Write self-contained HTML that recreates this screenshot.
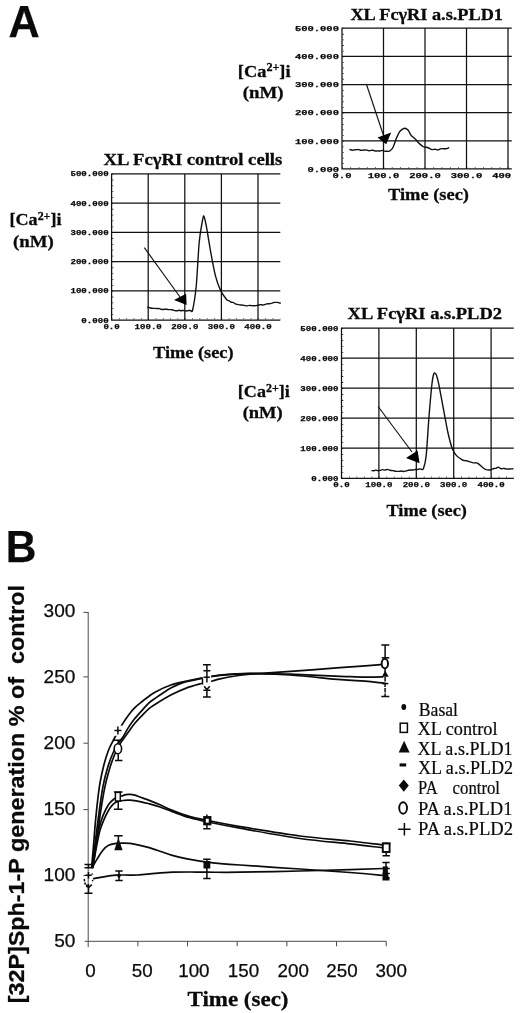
<!DOCTYPE html>
<html lang="en"><head><meta charset="utf-8"><title>Figure</title>
<style>
html,body{margin:0;padding:0;background:#fff}
svg{display:block}
text{fill:#0a0a0a}
.se{font-family:"Liberation Serif",serif}
.sa{font-family:"Liberation Sans",sans-serif;stroke:#0a0a0a;stroke-width:0.25px}
.mo{font-family:"Liberation Mono",monospace;stroke:#0a0a0a;stroke-width:0.25px}
.b{font-weight:bold}
.se.b{stroke:#0a0a0a;stroke-width:0.3px}
.se{stroke:#0a0a0a;stroke-width:0.2px}
.g{stroke:#111;stroke-width:1.25;fill:none}
.tk{stroke:#111;stroke-width:1.1;fill:none}
.cv{stroke:#111;stroke-width:1.4;fill:none;stroke-linejoin:round}
.ar{stroke:#111;stroke-width:1.15;fill:none}
.ln{stroke:#0a0a0a;stroke-width:1.7;fill:none;stroke-linecap:round}
.ax{stroke:#4a4a4a;stroke-width:1;fill:none}
.eb{stroke:#0a0a0a;stroke-width:1.5;fill:none}
</style></head><body>
<svg width="520" height="1013" viewBox="0 0 520 1013">
<rect width="520" height="1013" fill="#fff"/>

<text x="8.6" y="37" font-size="43.8" class="sa b" textLength="31.2" lengthAdjust="spacingAndGlyphs" stroke="#0a0a0a" stroke-width="0.6">A</text>
<text x="5.7" y="562" font-size="44.6" class="sa b" textLength="30.6" lengthAdjust="spacingAndGlyphs" stroke="#0a0a0a" stroke-width="0.6">B</text>
<g>
<path d="M341.50,28.20H511.80M341.50,56.35H511.80M341.50,84.50H511.80M341.50,112.65H511.80M341.50,140.80H511.80M341.50,168.95H511.80M342.00,28.20V169.45M383.50,28.20V169.45M425.00,28.20V169.45M466.50,28.20V169.45M508.00,28.20V169.45" class="g"/>
<path d="M343.20,28.20V168.95" class="tk" stroke-dasharray="0.8 4.830"/>
<path d="M342.00,167.75H511.80" class="tk" stroke-dasharray="0.8 7.500"/>
<text x="294.9" y="30.9" font-size="7.8" class="mo b" textLength="44.1" lengthAdjust="spacingAndGlyphs">500.000</text>
<text x="294.9" y="59.05" font-size="7.8" class="mo b" textLength="44.1" lengthAdjust="spacingAndGlyphs">400.000</text>
<text x="294.9" y="87.2" font-size="7.8" class="mo b" textLength="44.1" lengthAdjust="spacingAndGlyphs">300.000</text>
<text x="294.9" y="115.35" font-size="7.8" class="mo b" textLength="44.1" lengthAdjust="spacingAndGlyphs">200.000</text>
<text x="294.9" y="143.5" font-size="7.8" class="mo b" textLength="44.1" lengthAdjust="spacingAndGlyphs">100.000</text>
<text x="307.5" y="171.65" font-size="7.8" class="mo b" textLength="31.5" lengthAdjust="spacingAndGlyphs">0.000</text>
<text x="332.55" y="177.55" font-size="7.8" class="mo b" textLength="18.9" lengthAdjust="spacingAndGlyphs">0.0</text>
<text x="367.75" y="177.55" font-size="7.8" class="mo b" textLength="31.5" lengthAdjust="spacingAndGlyphs">100.0</text>
<text x="409.25" y="177.55" font-size="7.8" class="mo b" textLength="31.5" lengthAdjust="spacingAndGlyphs">200.0</text>
<text x="450.75" y="177.55" font-size="7.8" class="mo b" textLength="31.5" lengthAdjust="spacingAndGlyphs">300.0</text>
<text x="492.25" y="177.55" font-size="7.8" class="mo b" textLength="18.9" lengthAdjust="spacingAndGlyphs">400</text>
<path d="M349.5,149.5C349.9,149.6 352.4,150.2 353.0,150.2C353.6,150.2 354.6,149.8 355.0,149.7C355.4,149.6 356.6,149.6 357.0,149.6C357.4,149.6 358.6,149.5 359.0,149.6C359.4,149.7 360.6,150.3 361.0,150.4C361.4,150.5 362.6,150.1 363.0,150.1C363.4,150.1 364.6,150.0 365.0,150.0C365.4,150.0 366.6,150.0 367.0,150.1C367.4,150.2 368.6,150.8 369.0,150.8C369.4,150.8 370.6,150.4 371.0,150.4C371.4,150.3 372.6,150.2 373.0,150.3C373.4,150.4 374.8,150.9 375.2,151.0C375.7,151.0 377.1,150.9 377.5,150.9C377.9,150.9 379.3,151.0 379.8,151.0C380.2,150.9 381.6,150.4 382.0,150.4C382.4,150.4 383.6,151.0 384.0,151.1C384.4,151.2 385.6,151.2 386.0,151.2C386.4,151.2 387.6,151.4 388.0,151.4C388.4,151.3 389.5,151.1 390.0,150.8C390.5,150.4 392.4,148.7 393.0,147.5C393.6,146.3 395.6,140.4 396.2,138.8C396.9,137.1 399.2,132.3 400.0,131.2C400.8,130.2 403.7,128.4 404.5,128.2C405.3,128.1 407.3,129.3 408.0,130.0C408.7,130.7 410.6,134.6 411.2,135.5C411.9,136.4 414.2,138.0 415.0,138.8C415.8,139.5 418.0,142.2 418.8,143.0C419.5,143.8 421.9,145.8 422.5,146.2C423.1,146.7 424.2,147.0 424.6,147.1C425.0,147.2 426.2,147.2 426.7,147.3C427.1,147.4 428.2,147.8 428.8,148.0C429.3,148.2 431.4,149.5 432.0,149.6C432.6,149.7 434.4,149.2 435.0,149.2C435.6,149.2 437.5,150.0 438.0,150.0C438.5,150.0 439.8,149.0 440.2,148.9C440.7,148.7 441.9,148.6 442.5,148.6C443.1,148.6 445.3,148.9 446.0,148.8C446.7,148.7 448.9,147.6 449.2,147.5" class="cv"/>
<path d="M366.25,83.75L384,137" class="ar"/>
<path d="M391.2,132.5L377.5,137.5L386.2,144.2Z" fill="#000"/>
<text x="350.4" y="19.8" font-size="17.2" class="se b" textLength="152.6" lengthAdjust="spacingAndGlyphs">XL FcγRI a.s.PLD1</text>
<text x="237.8" y="76.5" font-size="17.6" class="se b" textLength="52.8" lengthAdjust="spacingAndGlyphs">[Ca<tspan font-size="11.6" dy="-5.2">2+</tspan><tspan dy="5.2">]i</tspan></text>
<text x="242.7" y="97.7" font-size="17.4" class="se b" textLength="40.8" lengthAdjust="spacingAndGlyphs">(nM)</text>
<text x="388" y="200.2" font-size="17.6" class="se b" textLength="81" lengthAdjust="spacingAndGlyphs">Time (sec)</text>
</g>
<g>
<path d="M111.10,173.75H280.30M111.10,203.00H280.30M111.10,232.25H280.30M111.10,261.50H280.30M111.10,290.75H280.30M111.10,320.00H280.30M111.60,173.75V320.50M148.20,173.75V320.50M184.80,173.75V320.50M221.40,173.75V320.50M258.00,173.75V320.50" class="g"/>
<path d="M112.80,173.75V320.00" class="tk" stroke-dasharray="0.8 5.050"/>
<path d="M111.60,318.80H280.30" class="tk" stroke-dasharray="0.8 6.520"/>
<text x="70.45" y="176.45" font-size="7.6" class="mo b" textLength="38.15" lengthAdjust="spacingAndGlyphs">500.000</text>
<text x="70.45" y="205.7" font-size="7.6" class="mo b" textLength="38.15" lengthAdjust="spacingAndGlyphs">400.000</text>
<text x="70.45" y="234.95" font-size="7.6" class="mo b" textLength="38.15" lengthAdjust="spacingAndGlyphs">300.000</text>
<text x="70.45" y="264.2" font-size="7.6" class="mo b" textLength="38.15" lengthAdjust="spacingAndGlyphs">200.000</text>
<text x="70.45" y="293.45" font-size="7.6" class="mo b" textLength="38.15" lengthAdjust="spacingAndGlyphs">100.000</text>
<text x="81.35" y="322.7" font-size="7.6" class="mo b" textLength="27.25" lengthAdjust="spacingAndGlyphs">0.000</text>
<text x="103.42" y="328.6" font-size="7.6" class="mo b" textLength="16.35" lengthAdjust="spacingAndGlyphs">0.0</text>
<text x="134.57" y="328.6" font-size="7.6" class="mo b" textLength="27.25" lengthAdjust="spacingAndGlyphs">100.0</text>
<text x="171.18" y="328.6" font-size="7.6" class="mo b" textLength="27.25" lengthAdjust="spacingAndGlyphs">200.0</text>
<text x="207.78" y="328.6" font-size="7.6" class="mo b" textLength="27.25" lengthAdjust="spacingAndGlyphs">300.0</text>
<text x="244.38" y="328.6" font-size="7.6" class="mo b" textLength="27.25" lengthAdjust="spacingAndGlyphs">400.0</text>
<path d="M147.2,307.3C147.4,307.3 149.1,307.6 149.6,307.7C150.1,307.8 151.5,308.2 152.0,308.3C152.5,308.4 154.0,308.3 154.5,308.4C155.0,308.4 156.6,308.6 157.0,308.6C157.4,308.6 158.6,308.4 159.0,308.5C159.4,308.5 160.6,309.2 161.0,309.3C161.4,309.4 162.5,309.5 163.0,309.5C163.5,309.5 165.3,309.1 165.9,309.1C166.5,309.2 168.3,309.6 168.8,309.6C169.3,309.6 170.5,309.6 170.9,309.6C171.3,309.7 172.5,309.9 172.9,310.0C173.3,310.1 174.6,310.5 175.0,310.6C175.4,310.7 176.6,310.8 177.0,310.8C177.4,310.8 178.6,310.3 179.0,310.3C179.4,310.3 180.5,310.7 181.0,310.7C181.5,310.7 183.0,310.4 183.6,310.4C184.1,310.5 185.6,311.0 186.1,311.0C186.6,311.0 187.8,310.5 188.2,310.5C188.7,310.4 189.9,310.4 190.4,310.4C190.8,310.4 191.9,312.9 192.5,310.5C193.1,308.1 195.5,293.2 196.2,286.5C196.9,279.8 198.5,249.7 199.1,243.3C199.7,237.0 201.5,225.7 202.0,223.0C202.5,220.3 203.3,215.6 203.7,215.9C204.1,216.2 205.6,222.4 206.3,226.0C207.0,229.6 209.8,246.9 210.7,251.9C211.6,256.9 214.6,272.5 215.6,276.4C216.6,280.3 219.7,288.6 220.8,290.9C221.9,293.2 225.7,298.5 226.5,299.5C227.3,300.5 228.2,300.3 228.7,300.6C229.1,300.8 230.4,301.8 230.8,302.0C231.3,302.2 232.6,302.2 233.0,302.4C233.5,302.5 234.8,303.6 235.2,303.8C235.6,304.0 237.0,304.2 237.5,304.4C238.0,304.5 239.3,304.8 239.8,304.9C240.3,305.0 241.6,304.9 242.1,305.0C242.6,305.0 243.9,305.3 244.4,305.4C244.9,305.5 246.2,305.9 246.7,305.9C247.2,305.9 248.6,305.4 249.0,305.4C249.5,305.3 250.9,305.6 251.3,305.6C251.8,305.7 253.2,305.7 253.7,305.7C254.1,305.7 255.5,305.7 256.0,305.6C256.4,305.6 257.8,305.4 258.3,305.3C258.8,305.2 260.1,304.6 260.6,304.6C261.1,304.6 262.4,305.0 262.9,305.0C263.4,305.0 264.7,304.6 265.2,304.4C265.7,304.3 267.0,303.8 267.5,303.8C268.0,303.7 269.3,303.9 269.8,303.8C270.3,303.7 271.7,303.2 272.2,303.1C272.7,302.9 274.1,302.5 274.6,302.4C275.1,302.4 276.4,302.3 277.0,302.4C277.6,302.5 280.4,303.2 280.8,303.3" class="cv"/>
<path d="M144.3,247.6L180,297" class="ar"/>
<path d="M186.1,293.7L186.6,305.0L174.0,300.1Z" fill="#000"/>
<text x="103.5" y="165" font-size="17.2" class="se b" textLength="178.8" lengthAdjust="spacingAndGlyphs">XL FcγRI control cells</text>
<text x="9.5" y="225.4" font-size="17.6" class="se b" textLength="52.0" lengthAdjust="spacingAndGlyphs">[Ca<tspan font-size="11.6" dy="-5.2">2+</tspan><tspan dy="5.2">]i</tspan></text>
<text x="13" y="246.6" font-size="17.4" class="se b" textLength="40.8" lengthAdjust="spacingAndGlyphs">(nM)</text>
<text x="153.1" y="357.9" font-size="17.6" class="se b" textLength="80.4" lengthAdjust="spacingAndGlyphs">Time (sec)</text>
</g>
<g>
<path d="M341.00,328.00H513.80M341.00,358.05H513.80M341.00,388.10H513.80M341.00,418.15H513.80M341.00,448.20H513.80M341.00,478.25H513.80M341.50,328.00V478.75M378.90,328.00V478.75M416.30,328.00V478.75M453.70,328.00V478.75M491.10,328.00V478.75" class="g"/>
<path d="M342.70,328.00V478.25" class="tk" stroke-dasharray="0.8 5.210"/>
<path d="M341.50,477.05H513.80" class="tk" stroke-dasharray="0.8 6.680"/>
<text x="300.35" y="330.7" font-size="7.6" class="mo b" textLength="38.15" lengthAdjust="spacingAndGlyphs">500.000</text>
<text x="300.35" y="360.75" font-size="7.6" class="mo b" textLength="38.15" lengthAdjust="spacingAndGlyphs">400.000</text>
<text x="300.35" y="390.8" font-size="7.6" class="mo b" textLength="38.15" lengthAdjust="spacingAndGlyphs">300.000</text>
<text x="300.35" y="420.85" font-size="7.6" class="mo b" textLength="38.15" lengthAdjust="spacingAndGlyphs">200.000</text>
<text x="300.35" y="450.9" font-size="7.6" class="mo b" textLength="38.15" lengthAdjust="spacingAndGlyphs">100.000</text>
<text x="311.25" y="480.95" font-size="7.6" class="mo b" textLength="27.25" lengthAdjust="spacingAndGlyphs">0.000</text>
<text x="333.32" y="486.85" font-size="7.6" class="mo b" textLength="16.35" lengthAdjust="spacingAndGlyphs">0.0</text>
<text x="365.27" y="486.85" font-size="7.6" class="mo b" textLength="27.25" lengthAdjust="spacingAndGlyphs">100.0</text>
<text x="402.68" y="486.85" font-size="7.6" class="mo b" textLength="27.25" lengthAdjust="spacingAndGlyphs">200.0</text>
<text x="440.07" y="486.85" font-size="7.6" class="mo b" textLength="27.25" lengthAdjust="spacingAndGlyphs">300.0</text>
<text x="477.48" y="486.85" font-size="7.6" class="mo b" textLength="27.25" lengthAdjust="spacingAndGlyphs">400.0</text>
<path d="M371.4,470.6C371.6,470.6 373.1,470.8 373.5,470.8C374.0,470.7 375.3,470.1 375.7,470.1C376.1,470.1 377.4,470.6 377.9,470.7C378.3,470.7 379.5,470.5 380.0,470.4C380.5,470.3 381.9,469.6 382.4,469.6C382.9,469.6 384.4,470.1 384.9,470.1C385.4,470.1 386.8,469.4 387.3,469.4C387.8,469.4 389.6,470.2 390.1,470.3C390.7,470.5 392.4,470.5 393.0,470.6C393.6,470.7 395.3,471.2 395.9,471.3C396.5,471.3 398.3,471.4 398.8,471.4C399.3,471.4 400.7,471.0 401.2,471.0C401.7,471.0 403.1,471.5 403.6,471.5C404.1,471.5 405.5,471.1 406.0,471.0C406.5,470.9 407.9,470.4 408.4,470.3C408.9,470.2 410.4,470.0 410.9,470.0C411.4,470.0 412.9,470.0 413.3,470.0C413.7,470.0 414.9,469.6 415.3,469.5C415.7,469.5 416.9,469.6 417.3,469.5C417.7,469.4 419.0,469.0 419.4,469.0C419.8,468.9 421.0,469.2 421.4,469.2C421.8,469.2 422.9,470.2 423.4,468.8C423.9,467.4 425.6,461.0 426.2,455.6C426.8,450.2 428.5,422.4 429.1,415.2C429.7,408.0 431.5,387.7 432.0,383.5C432.5,379.3 433.6,374.3 434.0,373.4C434.4,372.5 435.8,373.5 436.3,374.8C436.8,376.1 438.5,382.8 439.2,386.3C439.9,389.8 442.6,404.8 443.5,409.4C444.4,414.0 447.0,428.6 447.9,432.5C448.8,436.4 451.3,446.1 452.2,448.4C453.1,450.7 455.5,454.5 456.5,455.6C457.5,456.8 461.5,459.4 462.3,459.9C463.1,460.4 464.0,460.4 464.5,460.5C464.9,460.5 466.2,460.6 466.6,460.7C467.1,460.8 468.4,461.3 468.8,461.4C469.3,461.6 470.5,462.0 471.0,462.2C471.5,462.4 472.9,462.9 473.4,462.9C473.9,463.0 475.3,462.8 475.8,462.8C476.3,462.9 477.4,463.0 478.2,463.6C479.0,464.2 483.1,467.9 483.9,468.5C484.7,469.1 485.7,469.4 486.1,469.6C486.5,469.7 487.8,470.0 488.3,470.0C488.8,470.0 490.6,469.8 491.1,469.7C491.7,469.5 493.5,468.6 494.0,468.5C494.5,468.4 495.8,468.3 496.2,468.2C496.6,468.0 497.9,467.0 498.4,467.1C498.9,467.2 500.7,468.7 501.2,468.8C501.7,468.9 502.8,468.4 503.2,468.4C503.6,468.4 504.9,468.7 505.3,468.7C505.7,468.8 506.9,469.1 507.3,469.1C507.7,469.1 508.9,469.0 509.3,469.0C509.7,468.9 511.0,468.9 511.4,468.9C511.8,468.8 513.2,468.8 513.4,468.8" class="cv"/>
<path d="M378.1,406.5L412,452" class="ar"/>
<path d="M417.6,450.4L419.6,463.3L406.0,457.9Z" fill="#000"/>
<text x="347.6" y="318.5" font-size="17.2" class="se b" textLength="154.4" lengthAdjust="spacingAndGlyphs">XL FcγRI a.s.PLD2</text>
<text x="237.8" y="397" font-size="17.6" class="se b" textLength="52.0" lengthAdjust="spacingAndGlyphs">[Ca<tspan font-size="11.6" dy="-5.2">2+</tspan><tspan dy="5.2">]i</tspan></text>
<text x="242.7" y="418" font-size="17.4" class="se b" textLength="40.0" lengthAdjust="spacingAndGlyphs">(nM)</text>
<text x="386.5" y="515.8" font-size="17.6" class="se b" textLength="80.4" lengthAdjust="spacingAndGlyphs">Time (sec)</text>
</g>
<g>
<path d="M88.2,611.9V947.0999999999999M84.60000000000001,941.3H386.19M137.87,941.3V946.3M187.53,941.3V946.3M237.19,941.3V946.3M286.86,941.3V946.3M336.52,941.3V946.3M386.19,941.3V946.3" class="ax"/>
<path d="M83.4,875.50H88.2M83.4,809.60H88.2M83.4,743.20H88.2M83.4,676.90H88.2M83.4,612.40H88.2" class="ax" stroke="#222" stroke-width="1.2"/>
<text x="54.2" y="946.6" font-size="18.3" class="sa" textLength="21.2" lengthAdjust="spacingAndGlyphs">50</text>
<text x="43.6" y="880.7" font-size="18.3" class="sa" textLength="31.8" lengthAdjust="spacingAndGlyphs">100</text>
<text x="43.6" y="815.0" font-size="18.3" class="sa" textLength="31.8" lengthAdjust="spacingAndGlyphs">150</text>
<text x="43.6" y="748.8" font-size="18.3" class="sa" textLength="31.8" lengthAdjust="spacingAndGlyphs">200</text>
<text x="43.6" y="683.1" font-size="18.3" class="sa" textLength="31.8" lengthAdjust="spacingAndGlyphs">250</text>
<text x="43.6" y="617.3" font-size="18.3" class="sa" textLength="31.8" lengthAdjust="spacingAndGlyphs">300</text>
<text x="85.18" y="976.6" font-size="18" class="sa" textLength="10.45" lengthAdjust="spacingAndGlyphs">0</text>
<text x="131.85" y="976.6" font-size="18" class="sa" textLength="20.9" lengthAdjust="spacingAndGlyphs">50</text>
<text x="178.22" y="976.6" font-size="18" class="sa" textLength="31.35" lengthAdjust="spacingAndGlyphs">100</text>
<text x="227.82" y="976.6" font-size="18" class="sa" textLength="31.35" lengthAdjust="spacingAndGlyphs">150</text>
<text x="277.52" y="976.6" font-size="18" class="sa" textLength="31.35" lengthAdjust="spacingAndGlyphs">200</text>
<text x="326.32" y="976.6" font-size="18" class="sa" textLength="31.35" lengthAdjust="spacingAndGlyphs">250</text>
<text x="375.52" y="976.6" font-size="18" class="sa" textLength="31.35" lengthAdjust="spacingAndGlyphs">300</text>
<text x="187.5" y="1005.7" font-size="21.3" class="se b" textLength="101" lengthAdjust="spacingAndGlyphs">Time (sec)</text>
<text transform="translate(24.3,1003.3) rotate(-90)" font-size="22.3" class="sa b" textLength="418.3" lengthAdjust="spacingAndGlyphs" xml:space="preserve">[32P]Sph-1-P generation % of  control</text>
<path d="M91.6,867.5C91.9,863.7 92.9,853.2 93.6,844.6C94.3,836.0 95.0,825.5 96.0,815.9C97.0,806.3 98.0,795.5 99.3,787.3C100.5,779.1 102.0,772.7 103.5,766.5C105.0,760.3 106.9,754.4 108.6,750.0C110.3,745.6 111.9,743.1 113.5,740.0C115.1,736.9 116.5,734.2 118.0,731.5C119.5,728.8 120.7,726.8 122.5,724.0C124.3,721.2 126.8,717.5 128.8,714.8C130.8,712.1 132.3,710.2 134.6,707.9C136.9,705.6 140.3,703.0 142.7,701.0C145.1,699.0 146.9,697.7 149.0,696.2C151.1,694.7 151.8,693.8 155.4,691.9C159.0,690.0 165.7,686.8 170.8,685.0C175.9,683.2 181.1,682.4 186.2,681.2C191.3,680.1 195.9,679.1 201.5,678.1C207.1,677.1 211.9,676.0 220.0,675.2C228.1,674.4 238.3,673.4 250.0,673.4C261.7,673.4 274.9,674.0 290.0,675.0C305.1,676.0 328.3,678.6 340.8,679.6C353.3,680.6 357.8,680.6 365.0,681.2C372.2,681.8 380.8,682.9 384.0,683.2" class="ln"/>
<path d="M92.2,867.5C92.7,863.7 93.9,853.2 95.0,844.6C96.1,836.0 97.3,825.5 98.6,815.9C99.9,806.3 101.3,795.3 102.8,787.3C104.3,779.3 105.8,773.7 107.5,768.0C109.2,762.3 111.2,757.2 113.0,753.0C114.8,748.8 116.8,745.7 118.5,743.0C120.2,740.3 121.4,739.4 123.1,736.7C124.8,734.0 126.9,729.9 128.8,726.9C130.7,723.9 132.3,721.7 134.6,718.8C136.9,715.9 140.3,712.3 142.7,709.6C145.1,706.9 146.9,704.7 149.0,702.8C151.1,700.9 153.1,699.7 155.4,698.1C157.7,696.5 160.4,694.7 163.0,693.0C165.6,691.3 168.2,689.5 170.8,688.1C173.4,686.7 175.9,685.5 178.5,684.4C181.1,683.3 182.4,682.8 186.2,681.8C190.0,680.8 195.9,679.4 201.5,678.3C207.1,677.2 211.9,676.1 220.0,675.3C228.1,674.5 238.3,673.8 250.0,673.6C261.7,673.4 274.9,673.8 290.0,674.2C305.1,674.7 328.3,675.8 340.8,676.3C353.3,676.8 358.0,677.1 365.0,677.2C372.0,677.3 379.8,677.0 382.7,676.9" class="ln"/>
<path d="M92.8,867.5C93.4,863.7 95.0,853.2 96.2,844.6C97.4,836.0 98.6,825.5 100.0,815.9C101.4,806.3 103.2,795.1 104.8,787.3C106.4,779.5 107.9,774.4 109.5,769.0C111.1,763.6 113.1,758.4 114.5,755.0C115.9,751.6 116.9,750.7 118.0,748.5C119.1,746.3 119.5,744.7 121.3,741.9C123.1,739.1 126.6,734.6 128.8,731.5C131.0,728.4 132.3,726.3 134.6,723.5C136.9,720.7 140.3,717.3 142.7,714.8C145.1,712.3 146.9,710.4 149.0,708.6C151.1,706.8 151.8,706.5 155.4,704.2C159.0,701.9 165.7,697.7 170.8,695.0C175.9,692.3 181.1,690.0 186.2,688.1C191.3,686.2 197.2,684.7 201.5,683.5C205.8,682.3 209.2,681.8 212.3,681.0C215.4,680.2 216.2,679.6 220.0,678.8C223.8,678.0 230.0,676.8 235.0,676.0C240.0,675.2 241.3,674.9 250.0,674.2C258.7,673.5 272.0,672.8 287.0,671.7C302.0,670.6 327.0,668.6 340.0,667.6C353.0,666.6 358.2,666.3 365.0,665.8C371.8,665.3 378.2,664.8 380.8,664.6" class="ln"/>
<path d="M92.4,867.5C92.9,863.9 94.6,852.2 95.6,846.0C96.6,839.8 97.4,835.2 98.6,830.2C99.8,825.2 101.2,820.2 102.9,815.9C104.6,811.6 106.7,807.4 108.6,804.5C110.5,801.6 112.8,800.0 114.4,798.7C116.0,797.4 116.8,797.1 118.0,796.6C119.2,796.1 120.2,796.3 121.5,796.0C122.8,795.7 124.6,794.9 126.0,794.6C127.4,794.3 128.6,794.3 130.1,794.4C131.6,794.5 133.3,794.8 135.0,795.2C136.7,795.6 137.6,796.1 140.0,797.0C142.4,797.9 145.9,799.1 149.2,800.4C152.5,801.7 156.2,803.1 160.0,804.8C163.8,806.5 167.3,808.4 172.3,810.4C177.3,812.4 184.2,815.0 190.0,816.6C195.8,818.2 198.7,818.6 207.0,820.3C215.3,822.0 224.5,824.0 240.0,826.6C255.5,829.2 281.7,833.6 300.0,836.0C318.3,838.4 336.3,839.5 350.0,841.0C363.7,842.5 376.7,844.2 382.0,844.8" class="ln"/>
<path d="M92.8,867.5C93.4,863.9 95.4,852.2 96.6,846.0C97.8,839.8 98.7,834.7 100.0,830.2C101.3,825.7 102.6,822.5 104.3,818.8C106.0,815.1 108.1,810.8 110.0,808.0C111.9,805.2 113.6,803.5 115.8,802.3C118.0,801.0 120.6,800.9 123.0,800.5C125.4,800.1 127.3,800.0 130.1,800.2C132.9,800.4 136.8,801.0 140.0,801.6C143.2,802.2 145.9,802.9 149.2,803.8C152.5,804.7 156.2,805.7 160.0,807.0C163.8,808.3 167.3,809.8 172.3,811.6C177.3,813.4 184.2,816.1 190.0,817.8C195.8,819.5 198.7,820.1 207.0,821.8C215.3,823.5 224.5,825.4 240.0,828.2C255.5,831.0 281.7,835.9 300.0,838.5C318.3,841.1 336.3,842.4 350.0,843.9C363.7,845.4 376.7,847.1 382.0,847.7" class="ln"/>
<path d="M92.2,867.5C93.0,866.1 95.4,861.8 97.2,858.9C99.0,856.0 101.0,852.6 102.9,850.3C104.8,848.0 106.4,846.4 108.6,845.3C110.8,844.1 113.4,843.8 115.8,843.4C118.2,843.0 120.6,843.1 123.0,843.1C125.4,843.1 127.3,843.0 130.1,843.4C132.9,843.8 136.8,844.6 140.0,845.3C143.2,846.0 145.9,846.6 149.2,847.6C152.5,848.6 156.2,849.9 160.0,851.2C163.8,852.5 168.0,854.2 172.3,855.4C176.6,856.6 180.2,857.5 186.0,858.6C191.8,859.7 198.0,861.0 207.0,862.1C216.0,863.2 224.5,863.9 240.0,865.0C255.5,866.1 281.7,867.8 300.0,869.0C318.3,870.2 336.2,871.4 350.0,872.5C363.8,873.6 377.5,874.9 383.0,875.4" class="ln"/>
<path d="M93.6,878.6C95.5,878.3 101.2,877.2 105.0,876.6C108.8,876.0 112.9,875.5 116.2,875.2C119.5,874.9 121.4,875.0 125.0,875.0C128.6,875.0 132.7,875.3 137.7,875.0C142.7,874.7 149.2,873.9 155.0,873.4C160.8,872.9 166.5,872.4 172.3,872.2C178.1,872.0 184.2,872.0 190.0,872.0C195.8,872.0 198.7,872.2 207.0,872.2C215.3,872.2 224.5,872.4 240.0,872.2C255.5,872.0 281.7,871.4 300.0,871.0C318.3,870.6 336.2,870.0 350.0,869.6C363.8,869.2 377.5,868.7 383.0,868.5" class="ln"/>
<path d="M88.5,864.6V867.7M84.5,864.6H92.5M84.5,867.7H92.5" class="eb"/>
<path d="M88.5,884V893.3M84.5,893.3H92.5" class="eb"/>
<path d="M85.3,875.2H91.7M88.5,872V878.4" class="eb"/>
<path d="M84.3,879C84.6,884 86,886.5 88,887" class="eb" stroke-dasharray="2.2 1.3"/>
<path d="M86.3,884.6L89,887.2L91.8,884.6" class="eb"/>
<path d="M92.2,873.6v1.2M92.6,880v1.2" class="eb" stroke-width="0.9"/>
<path d="M118.2,740V760.4M115.0,760.4H122.5" class="eb"/>
<path d="M113.8,740.2H121.3" class="eb" stroke-width="2.2"/>
<ellipse cx="117.9" cy="748.8" rx="3.7" ry="5" fill="#fff" stroke="#0a0a0a" stroke-width="1.6"/>
<rect x="113.2" y="725.6" width="9.4" height="10.2" fill="#fff"/>
<path d="M114.4,730.4H121.4M117.9,726.6V734.4" class="eb" stroke-width="1.6"/>
<path d="M118.2,791.9V809.2M113.9,791.9H122.5M113.9,809.2H122.5" class="eb"/>
<rect x="115.4" y="792.4" width="4.9" height="8.6" fill="#fff" stroke="#0a0a0a" stroke-width="1.5"/>
<path d="M118.4,835.7V846M114.10000000000001,835.7H122.7" class="eb"/>
<path d="M114.3,850.3L118.4,838L122.60000000000001,850.3Z" fill="#0a0a0a"/>
<path d="M119.0,870.9V880.4M115.3,870.9H122.7M115.3,880.4H122.7" class="eb"/>
<ellipse cx="119.0" cy="875.6" rx="1.7" ry="2.2" fill="#0a0a0a"/>
<rect x="202.70000000000002" y="672" width="8.4" height="15" fill="#fff"/>
<path d="M202.5,678.5V684.6" class="eb" stroke-width="1.1"/>
<path d="M206.9,664.8V682.6M206.9,690.3V697.1" class="eb" stroke-width="1.4"/>
<path d="M203.0,664.8H210.8M203.0,697.1H210.8" class="eb" stroke-width="1.9"/>
<path d="M203.4,670.8H210.4M203.4,690.3H210.4" class="eb" stroke-width="1.4"/>
<path d="M203.5,677.2H209.9" class="eb" stroke-width="1.5"/>
<path d="M204.1,686.2L206.9,689.6L209.70000000000002,686.2" class="eb" stroke-width="1.5"/>
<path d="M206.9,814.5V828.7M203.20000000000002,828.7H210.6" class="eb"/>
<rect x="204.5" y="817.4" width="5.6" height="6.6" fill="#fff" stroke="#0a0a0a" stroke-width="2.7"/>
<path d="M206.9,859.2V878.6M203.20000000000002,859.2H210.6M203.20000000000002,878.6H210.6" class="eb"/>
<rect x="203.5" y="861" width="6.8" height="7.5" fill="#0a0a0a"/>
<path d="M385.1,645V658M385.1,668V672" class="eb" stroke-width="1.5"/>
<path d="M381.3,645H389.3M381.3,696.5H389.3" class="eb" stroke-width="1.7"/>
<path d="M381.70000000000005,657.8H389.3" class="eb" stroke-width="1.5"/>
<ellipse cx="384.85" cy="663.6" rx="3.2" ry="4.8" fill="#fff" stroke="#0a0a0a" stroke-width="1.9"/>
<path d="M381.90000000000003,676.8L385.1,670.6L388.70000000000005,676.8Z" fill="#0a0a0a"/>
<path d="M385.1,677V696.5" class="eb" stroke-width="1.5" stroke-dasharray="4.4 1.1"/>
<path d="M382.1,683.6H388.3" class="eb" stroke-width="1.5"/>
<path d="M386.2,842.5V855.8M382.5,855.8H389.9" class="eb"/>
<rect x="382.8" y="843.4" width="6.8" height="8.6" fill="#fff" stroke="#0a0a0a" stroke-width="1.9"/>
<path d="M382.0,843.4H390.40000000000003" class="eb" stroke-width="2.8"/>
<path d="M386.0,862.5V880M382.4,862.5H389.6" class="eb"/>
<path d="M382.40000000000003,880.4L386.0,866L389.6,880.4Z" fill="#0a0a0a"/>
<path d="M382.40000000000003,868.6H389.8M382.40000000000003,873.4H389.8M382.40000000000003,878H389.8" class="eb" stroke-width="2.6"/>
<rect x="382.8" y="866.4" width="5" height="13.6" fill="#0a0a0a"/>
<ellipse cx="403.8" cy="707" rx="2.4" ry="2.9" fill="#0a0a0a"/>
<rect x="400.2" y="723.2" width="7.2" height="9.2" fill="#fff" stroke="#0a0a0a" stroke-width="1.5"/>
<path d="M398.7,752.6L404.1,740.8L409.6,752.6Z" fill="#0a0a0a"/>
<rect x="399.6" y="763.4" width="6.6" height="3.1" fill="#0a0a0a"/>
<path d="M403.8,779.4L408.8,785.6L403.8,791.8L398.8,785.6Z" fill="#0a0a0a"/>
<ellipse cx="403.1" cy="808" rx="3.9" ry="5.7" fill="#fff" stroke="#0a0a0a" stroke-width="1.9"/>
<path d="M398.2,829.2H410.6M404.4,823V835.4" class="eb" stroke-width="1.1"/>
<text x="418.8" y="715.8" font-size="17.8" class="se" textLength="39.2" lengthAdjust="spacingAndGlyphs" xml:space="preserve">Basal</text>
<text x="417.5" y="735" font-size="17.8" class="se" textLength="80.0" lengthAdjust="spacingAndGlyphs" xml:space="preserve">XL control</text>
<text x="417.5" y="755" font-size="17.8" class="se" textLength="95.0" lengthAdjust="spacingAndGlyphs" xml:space="preserve">XL a.s.PLD1</text>
<text x="418" y="773.8" font-size="17.8" class="se" textLength="95" lengthAdjust="spacingAndGlyphs" xml:space="preserve">XL a.s.PLD2</text>
<text x="418" y="793.8" font-size="17.8" class="se" textLength="19.6" lengthAdjust="spacingAndGlyphs" xml:space="preserve">PA</text>
<text x="452.6" y="793.8" font-size="17.8" class="se" textLength="47.4" lengthAdjust="spacingAndGlyphs" xml:space="preserve">control</text>
<text x="418" y="815" font-size="17.8" class="se" textLength="94.5" lengthAdjust="spacingAndGlyphs" xml:space="preserve">PA a.s.PLD1</text>
<text x="418" y="835" font-size="17.8" class="se" textLength="95" lengthAdjust="spacingAndGlyphs" xml:space="preserve">PA a.s.PLD2</text>
</g>
</svg></body></html>
